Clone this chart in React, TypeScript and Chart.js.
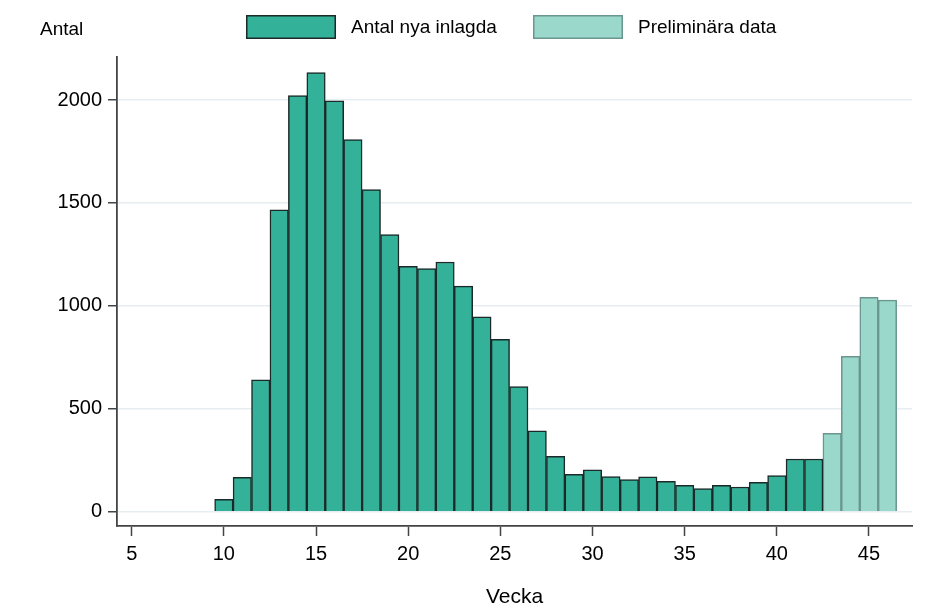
import React, { useEffect, useRef } from "react";
import { Chart, registerables } from "chart.js";

Chart.register(...registerables);

const weeks: number[] = [10, 11, 12, 13, 14, 15, 16, 17, 18, 19, 20, 21, 22, 23, 24, 25, 26, 27, 28, 29, 30, 31, 32, 33, 34, 35, 36, 37, 38, 39, 40, 41, 42];
const antalNyaInlagda: number[] = [60, 167, 641, 1466, 2022, 2133, 1996, 1808, 1565, 1346, 1192, 1181, 1213, 1096, 947, 837, 608, 393, 269, 182, 203, 170, 156, 169, 148, 128, 112, 128, 120, 143, 175, 256, 256];
const prelWeeks: number[] = [43, 44, 45, 46];
const preliminaraData: number[] = [381, 755, 1042, 1028];
const xTicks: number[] = [5, 10, 15, 20, 25, 30, 35, 40, 45];
const yTicks: number[] = [0, 500, 1000, 1500, 2000];

const FONT = "'Liberation Sans', Arial, sans-serif";
const DARK_FILL = "#33b199";
const DARK_BORDER = "#1b2a28";
const LIGHT_FILL = "#9ad8cb";
const LIGHT_BORDER = "#6a968f";

const overlayPlugin = {
  id: "overlay",
  afterDraw(chart: any) {
    const ctx = chart.ctx as CanvasRenderingContext2D;
    const area = chart.chartArea;
    ctx.save();
    ctx.fillStyle = "#000";
    ctx.textBaseline = "middle";
    ctx.textAlign = "left";
    ctx.font = `19px ${FONT}`;
    ctx.fillText("Antal", 40, 30);

    // legend
    const items = [
      { x: 246, w: 90, fill: DARK_FILL, stroke: DARK_BORDER, text: "Antal nya inlagda", tx: 351 },
      { x: 533, w: 90, fill: LIGHT_FILL, stroke: LIGHT_BORDER, text: "Preliminära data", tx: 638 },
    ];
    for (const it of items) {
      ctx.fillStyle = it.fill;
      ctx.fillRect(it.x, 15, it.w, 24);
      ctx.strokeStyle = it.stroke;
      ctx.lineWidth = 1.5;
      ctx.strokeRect(it.x + 0.75, 15.75, it.w - 1.5, 22.5);
      ctx.fillStyle = "#000";
      ctx.fillText(it.text, it.tx, 28);
    }

    ctx.textAlign = "center";
    ctx.font = `21px ${FONT}`;
    ctx.fillText("Vecka", (area.left + area.right) / 2, 597);
    ctx.restore();
  },
};

export default function App() {
  const ref = useRef<HTMLCanvasElement | null>(null);

  useEffect(() => {
    document.body.style.margin = "0";
    if (!ref.current) return;
    const chart = new Chart(ref.current, {
      type: "bar",
      data: {
        datasets: [
          {
            label: "Antal nya inlagda",
            data: weeks.map((w, i) => ({ x: w, y: antalNyaInlagda[i] })),
            backgroundColor: DARK_FILL,
            borderColor: DARK_BORDER,
            borderWidth: 1.5,
            barPercentage: 1,
            categoryPercentage: 1,
            grouped: false,
          } as any,
          {
            label: "Preliminära data",
            data: prelWeeks.map((w, i) => ({ x: w, y: preliminaraData[i] })),
            backgroundColor: LIGHT_FILL,
            borderColor: LIGHT_BORDER,
            borderWidth: 1.5,
            barPercentage: 1,
            categoryPercentage: 1,
            grouped: false,
          } as any,
        ],
      },
      options: {
        responsive: false,
        maintainAspectRatio: false,
        animation: false,
        layout: { padding: { left: 0, top: 57, right: 31, bottom: 0 } },
        plugins: {
          legend: { display: false },
          tooltip: { enabled: false },
        },
        scales: {
          x: {
            type: "linear",
            min: 4.2024,
            max: 47.333,
            offset: false,
            afterFit: (scale: any) => {
              scale.height = 81;
            },
            afterBuildTicks: (scale: any) => {
              scale.ticks = xTicks.map((v) => ({ value: v }));
            },
            grid: {
              offset: false,
              drawOnChartArea: false,
              drawTicks: true,
              tickLength: 10,
              tickWidth: 1.5,
              tickColor: "#444",
            },
            border: { display: true, color: "#444", width: 1.8 },
            ticks: {
              color: "#000",
              font: { family: FONT, size: 20 },
              padding: 6,
              maxRotation: 0,
              autoSkip: false,
              callback: (v: any) => String(v),
            },
          },
          y: {
            type: "linear",
            min: -69.5,
            max: 2209,
            afterFit: (scale: any) => {
              scale.width = 117;
            },
            afterBuildTicks: (scale: any) => {
              scale.ticks = yTicks.map((v) => ({ value: v }));
            },
            grid: {
              color: "#e6eef1",
              lineWidth: 1.5,
              drawTicks: true,
              tickLength: 9,
              tickWidth: 1.5,
              tickColor: "#444",
            },
            border: { display: true, color: "#444", width: 1.8 },
            ticks: {
              color: "#000",
              font: { family: FONT, size: 20 },
              padding: 6,
              autoSkip: false,
              callback: (v: any) => String(v),
            },
          },
        },
      },
      plugins: [overlayPlugin],
    });
    return () => chart.destroy();
  }, []);

  return (
    <div style={{ width: 943, height: 607, background: "#fff" }}>
      <canvas ref={ref} width={943} height={607} style={{ display: "block" }} />
    </div>
  );
}
